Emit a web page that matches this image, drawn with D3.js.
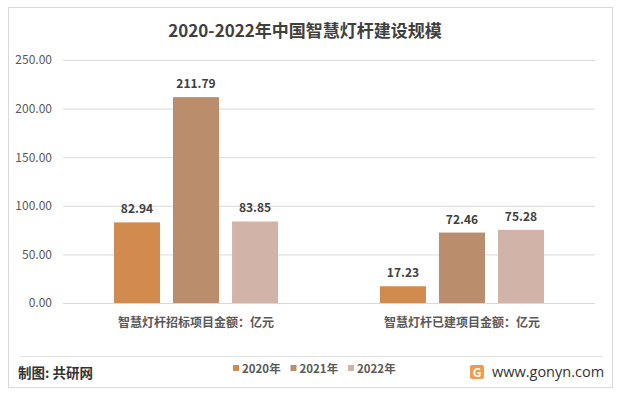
<!DOCTYPE html>
<html>
<head>
<meta charset="utf-8">
<script src="https://cdn.jsdelivr.net/npm/d3@7"></script>
<style>
    body { margin: 0; background: #fff; }
    svg { font-family: "Noto Sans CJK SC", "Noto Sans", sans-serif; }
</style>
</head>
<body>
<div id="chart"></div>
<script>
// chart data
const categories = ['智慧灯杆招标项目金额：亿元', '智慧灯杆已建项目金额：亿元']
const years = ['2020年', '2021年', '2022年']
const values2020 = [82.94, 17.23]
const values2021 = [211.79, 72.46]
const values2022 = [83.85, 75.28]
const yTicks = [0, 50, 100, 150, 200, 250]
const colors = ['#D28B4E', '#BA8E6D', '#D1B3A8']

function draw() {
    let dimensions = {
        width: 619,
        height: 393,
        left: 63,
        right: 595,
        top: 60,
        bottom: 303,
    }

    const svg = d3.select('#chart')
        .append('svg')
        .attr('width', dimensions.width)
        .attr('height', dimensions.height)

    // outer frame
    svg.append('rect')
        .attr('x', 8.5).attr('y', 7.5)
        .attr('width', 604).attr('height', 380)
        .attr('fill', '#fff')
        .attr('stroke', '#d9d9d9')

    // title
    svg.append('text')
        .attr('x', 305)
        .attr('y', 37)
        .attr('text-anchor', 'middle')
        .attr('font-size', 17)
        .attr('font-weight', 'bold')
        .attr('fill', '#404040')
        .text('2020-2022年中国智慧灯杆建设规模')

    // scales
    const y = d3.scaleLinear()
        .domain([0, 250])
        .range([dimensions.bottom, dimensions.top])

    const x0 = d3.scaleBand()
        .domain(categories)
        .range([dimensions.left, dimensions.right])
        .paddingInner(0.383)
        .paddingOuter(0.1917)

    const x1 = d3.scaleBand()
        .domain(years)
        .range([0, x0.bandwidth()])
        .paddingInner(0.22)

    // grid + y axis
    const yAxis = svg.append('g')
        .attr('transform', `translate(${dimensions.left},0)`)
        .call(d3.axisLeft(y)
            .tickValues(yTicks)
            .tickFormat(d3.format('.2f'))
            .tickSize(-(dimensions.right - dimensions.left))
            .tickPadding(11))
    yAxis.select('.domain').remove()
    yAxis.selectAll('line').attr('stroke', '#d9d9d9')
    yAxis.selectAll('text')
        .attr('font-size', 12)
        .attr('fill', '#595959')
        .attr('font-family', '"Noto Sans CJK SC", sans-serif')

    // bars
    const rows = categories.map((c, i) => ({
        cat: c,
        vals: [values2020[i], values2021[i], values2022[i]]
    }))

    const groups = svg.selectAll('.grp')
        .data(rows)
        .join('g')
        .attr('class', 'grp')
        .attr('transform', d => `translate(${x0(d.cat)},0)`)

    groups.selectAll('rect')
        .data(d => d.vals.map((v, j) => ({ year: years[j], v: v, j: j })))
        .join('rect')
        .attr('x', d => x1(d.year))
        .attr('y', d => y(d.v))
        .attr('width', x1.bandwidth())
        .attr('height', d => y(0) - y(d.v))
        .attr('fill', d => colors[d.j])

    groups.selectAll('.val')
        .data(d => d.vals.map((v, j) => ({ year: years[j], v: v })))
        .join('text')
        .attr('class', 'val')
        .attr('x', d => x1(d.year) + x1.bandwidth() / 2)
        .attr('y', d => y(d.v) - 9)
        .attr('text-anchor', 'middle')
        .attr('font-size', 12)
        .attr('font-weight', 'bold')
        .attr('fill', '#404040')
        .text(d => d.v.toFixed(2))

    // category labels
    svg.selectAll('.cat')
        .data(categories)
        .join('text')
        .attr('class', 'cat')
        .attr('x', d => x0(d) + x0.bandwidth() / 2)
        .attr('y', 327)
        .attr('text-anchor', 'middle')
        .attr('font-size', 12)
        .attr('font-weight', 'bold')
        .attr('fill', '#595959')
        .text(d => d)

    // footer separator
    svg.append('line')
        .attr('x1', 20).attr('x2', 603)
        .attr('y1', 356.5).attr('y2', 356.5)
        .attr('stroke', '#e3e3e3')

    svg.append('text')
        .attr('x', 18)
        .attr('y', 378)
        .attr('font-size', 13.5)
        .attr('font-weight', 'bold')
        .attr('fill', '#333')
        .text('制图: 共研网')

    // legend
    const legend = svg.selectAll('.leg')
        .data(years)
        .join('g')
        .attr('class', 'leg')
        .attr('transform', (d, i) => `translate(${233 + i * 57.5},365)`)
    legend.append('rect')
        .attr('width', 6).attr('height', 6)
        .attr('fill', (d, i) => colors[i])
    legend.append('text')
        .attr('x', 9)
        .attr('y', 8)
        .attr('font-size', 11.5)
        .attr('font-weight', 'bold')
        .attr('fill', '#595959')
        .text(d => d)

    // site logo
    svg.append('rect')
        .attr('x', 470).attr('y', 365)
        .attr('width', 14).attr('height', 14)
        .attr('rx', 2)
        .attr('fill', '#F39A4C')
    svg.append('text')
        .attr('x', 477).attr('y', 377)
        .attr('text-anchor', 'middle')
        .attr('font-size', 12)
        .attr('font-weight', 'bold')
        .attr('fill', '#fff')
        .text('G')
    svg.append('text')
        .attr('x', 492)
        .attr('y', 377)
        .attr('font-size', 14.5)
        .attr('fill', '#333')
        .attr('font-family', '"Open Sans", sans-serif')
        .text('www.gonyn.com')
}
draw()
</script>
</body>
</html>
